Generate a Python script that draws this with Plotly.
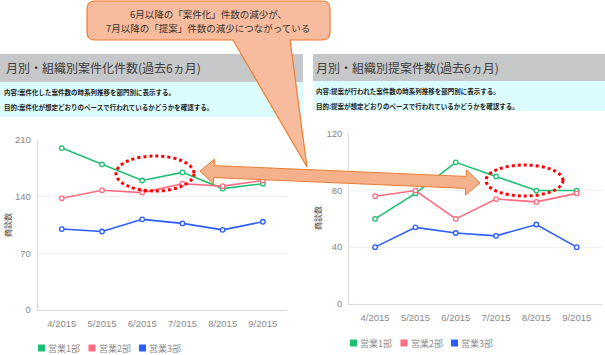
import numpy as np
import plotly.graph_objects as go

W, H = 605, 355

months = ["4/2015", "5/2015", "6/2015", "7/2015", "8/2015", "9/2015"]
series_names = ["営業1部", "営業2部", "営業3部"]
colors = ["#1dbf73", "#ff6b81", "#2b5cff"]

# Left chart: 案件化件数
left_s1 = [200, 180, 160, 170, 150, 156]
left_s2 = [138, 148, 145, 156, 153, 160]
left_s3 = [100, 97, 112, 107, 99, 109]
left_ticks = [0, 70, 140, 210]

# Right chart: 提案件数
right_s1 = [60, 78, 100, 90, 80, 80]
right_s2 = [76, 80, 60, 74, 72, 78]
right_s3 = [40, 54, 50, 48, 56, 40]
right_ticks = [0, 40, 80, 120]

left_title = "月別・組織別案件化件数(過去6ヵ月)"
right_title = "月別・組織別提案件数(過去6ヵ月)"
left_desc = ["内容:案件化した案件数の時系列推移を部門別に表示する。",
             "目的:案件化が想定どおりのペースで行われているかどうかを確認する。"]
right_desc = ["内容:提案が行われた案件数の時系列推移を部門別に表示する。",
              "目的:提案が想定どおりのペースで行われているかどうかを確認する。"]
callout_lines = ["6月以降の「案件化」件数の減少が、", "7月以降の「提案」件数の減少につながっている"]
y_title = "商談数"

JP = "Noto Sans CJK JP"


def px(x):
    return x / W


def py(y):
    return 1 - y / H


fig = go.Figure()

for vals, name, c in zip([left_s1, left_s2, left_s3], series_names, colors):
    fig.add_trace(go.Scatter(x=months, y=vals, mode="lines+markers", name=name,
                             line=dict(color=c, width=1.6),
                             marker=dict(size=4.5, color="white", line=dict(color=c, width=1.3)),
                             xaxis="x", yaxis="y", showlegend=False))
for vals, name, c in zip([right_s1, right_s2, right_s3], series_names, colors):
    fig.add_trace(go.Scatter(x=months, y=vals, mode="lines+markers", name=name,
                             line=dict(color=c, width=1.6),
                             marker=dict(size=4.5, color="white", line=dict(color=c, width=1.3)),
                             xaxis="x2", yaxis="y2", showlegend=False))

axis_common = dict(showgrid=False, linecolor="#d9d9d9", linewidth=1, showline=True,
                   tickfont=dict(family="Liberation Sans", size=9.5, color="#888"),
                   automargin=False, ticks="", zeroline=False, fixedrange=True)
yaxis_common = dict(showgrid=True, gridcolor="#f0f0f0", gridwidth=1, linecolor="#d9d9d9",
                    linewidth=1, showline=True, ticks="", zeroline=False,
                    tickfont=dict(family="Liberation Sans", size=9.5, color="#888"),
                    automargin=False, ticklabelstandoff=4)

fig.update_layout(
    width=W, height=H,
    margin=dict(l=0, r=0, t=0, b=0),
    paper_bgcolor="white", plot_bgcolor="white",
    showlegend=False,
    xaxis=dict(domain=[px(37.7), px(287)], range=[-0.6, 5.6], type="category",
               ticklabelstandoff=5, anchor="y", **axis_common),
    yaxis=dict(domain=[py(310), py(140)], range=[0, 210], tickvals=left_ticks,
               anchor="x", **yaxis_common),
    xaxis2=dict(domain=[px(349.3), px(601.7)], range=[-0.64, 5.62], type="category",
                ticklabelstandoff=5, anchor="y2", **axis_common),
    yaxis2=dict(domain=[py(303.7), py(134)], range=[0, 120], tickvals=right_ticks,
                anchor="x2", **yaxis_common),
)

shapes = []
# header bars
shapes.append(dict(type="rect", xref="paper", yref="paper", x0=px(0), x1=px(303), y0=py(82), y1=py(54),
                   fillcolor="#c5c7c8", line=dict(width=0), layer="below"))
shapes.append(dict(type="rect", xref="paper", yref="paper", x0=px(313), x1=px(605), y0=py(81), y1=py(54),
                   fillcolor="#c5c7c8", line=dict(width=0), layer="below"))
# description boxes
shapes.append(dict(type="rect", xref="paper", yref="paper", x0=px(0), x1=px(303), y0=py(117), y1=py(82),
                   fillcolor="#dcfbfd", line=dict(width=0), layer="below"))
shapes.append(dict(type="rect", xref="paper", yref="paper", x0=px(313), x1=px(605), y0=py(111), y1=py(81),
                   fillcolor="#dcfbfd", line=dict(width=0), layer="below"))


def P(x, y):
    return f"{px(x):.5f},{py(y):.5f}"


# callout with pointer
r = 8
bx0, bx1, by0, by1 = 87, 330, 1, 40
callout_path = (f"M {P(bx0 + r, by0)} L {P(bx1 - r, by0)} Q {P(bx1, by0)} {P(bx1, by0 + r)} "
                f"L {P(bx1, by1 - r)} Q {P(bx1, by1)} {P(bx1 - r, by1)} "
                f"L {P(290, by1)} L {P(307, 167)} L {P(233, by1)} "
                f"L {P(bx0 + r, by1)} Q {P(bx0, by1)} {P(bx0, by1 - r)} "
                f"L {P(bx0, by0 + r)} Q {P(bx0, by0)} {P(bx0 + r, by0)} Z")
shapes.append(dict(type="path", xref="paper", yref="paper", path=callout_path,
                   fillcolor="#f7bc9d", line=dict(color="#ed7d31", width=1.2)))

# double-headed arrow
L = np.array([200.0, 171.0])
R = np.array([480.0, 183.0])
d = R - L
u = d / np.linalg.norm(d)
n = np.array([-u[1], u[0]])
hl, hw, sw = 14.0, 12.5, 6.0
bl = L + hl * u
br = R - hl * u
pts = [L, bl - hw * n, bl - sw * n, br - sw * n, br - hw * n, R,
       br + hw * n, br + sw * n, bl + sw * n, bl + hw * n]
arrow_path = "M " + " L ".join(P(p[0], p[1]) for p in pts) + " Z"
shapes.append(dict(type="path", xref="paper", yref="paper", path=arrow_path,
                   fillcolor="#f5b08c", line=dict(color="#ed7d31", width=1)))

# dotted ellipses
shapes.append(dict(type="circle", xref="paper", yref="paper", x0=px(116), x1=px(194), y0=py(191), y1=py(156),
                   line=dict(color="#ff0000", width=3, dash="dot")))
shapes.append(dict(type="circle", xref="paper", yref="paper", x0=px(486), x1=px(563), y0=py(196), y1=py(165),
                   line=dict(color="#ff0000", width=3, dash="dot")))

ann = []
# legends (drawn manually: small squares followed by labels)
legend_rows = [(38, 348), (350, 343)]
for lx, ly in legend_rows:
    for i, (name, c) in enumerate(zip(series_names, colors)):
        x0 = lx + 50.5 * i
        shapes.append(dict(type="rect", xref="paper", yref="paper", x0=px(x0), x1=px(x0 + 7),
                           y0=py(ly + 3.5), y1=py(ly - 3.5), fillcolor=c, line=dict(width=0)))
        ann.append(dict(text=name, x=px(x0 + 8), y=py(ly), xref="paper", yref="paper", xanchor="left",
                        yanchor="middle", showarrow=False,
                        font=dict(family=JP, size=9, color="#8a8a8a")))

fig.update_layout(shapes=shapes)

ann.append(dict(text=left_title, x=px(4), y=py(68), xref="paper", yref="paper", xanchor="left",
                yanchor="middle", showarrow=False, font=dict(family=JP, size=12, color="#404040")))
ann.append(dict(text=right_title, x=px(314), y=py(68), xref="paper", yref="paper", xanchor="left",
                yanchor="middle", showarrow=False, font=dict(family=JP, size=12, color="#404040")))
for i, t in enumerate(left_desc):
    ann.append(dict(text=t, x=px(2), y=py(92 + 15 * i), xref="paper", yref="paper", xanchor="left",
                    yanchor="middle", showarrow=False, font=dict(family=JP, size=6.5, color="#222", weight="bold")))
for i, t in enumerate(right_desc):
    ann.append(dict(text=t, x=px(314), y=py(91 + 15 * i), xref="paper", yref="paper", xanchor="left",
                    yanchor="middle", showarrow=False, font=dict(family=JP, size=6.5, color="#222", weight="bold")))
for i, t in enumerate(callout_lines):
    ann.append(dict(text=t, x=px(208), y=py(14 + 13.5 * i), xref="paper", yref="paper",
                    xanchor="center", yanchor="middle", showarrow=False,
                    font=dict(family=JP, size=9.5, color="#333")))
ann.append(dict(text=y_title, x=px(7), y=py(225), xref="paper", yref="paper", textangle=-90,
                xanchor="center", yanchor="middle", showarrow=False, font=dict(family=JP, size=8, color="#444")))
ann.append(dict(text=y_title, x=px(318), y=py(218), xref="paper", yref="paper", textangle=-90,
                xanchor="center", yanchor="middle", showarrow=False, font=dict(family=JP, size=8, color="#444")))
fig.update_layout(annotations=ann)

fig.write_html("out.html", config={"displayModeBar": False},
               post_script="document.body.style.margin='0';document.body.style.overflow='hidden';")
